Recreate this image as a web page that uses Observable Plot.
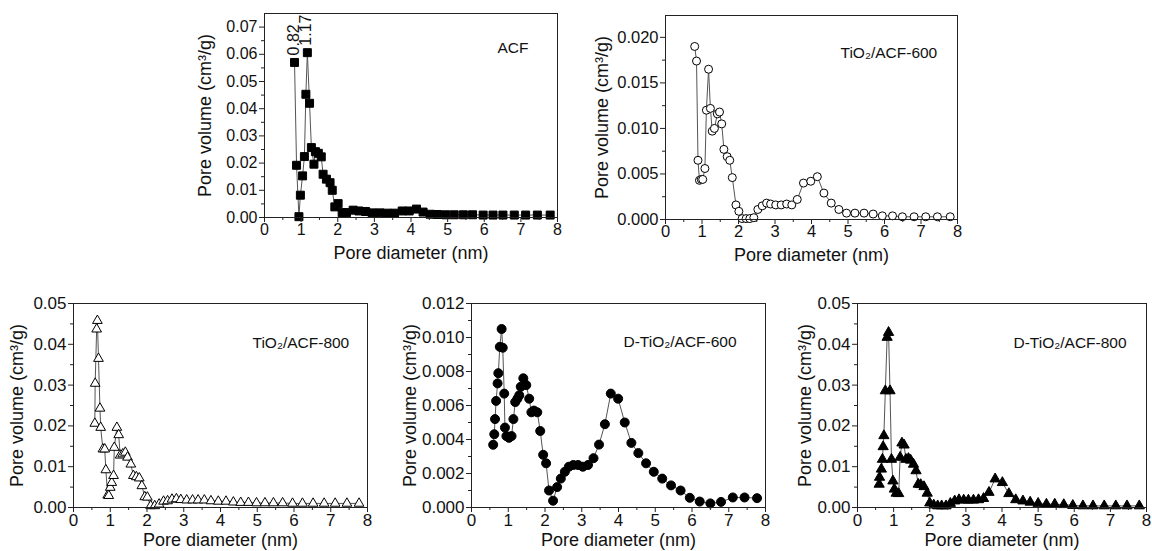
<!DOCTYPE html>
<html><head><meta charset="utf-8">
<script src="https://cdn.jsdelivr.net/npm/d3@7"></script>
<script src="https://cdn.jsdelivr.net/npm/@observablehq/plot@0.6"></script>
<style>
body{margin:0;background:#fff;overflow:hidden}
#wrap{position:relative;width:1152px;height:551px;overflow:hidden;background:#fff}
#wrap > svg{position:absolute}
</style></head><body><div id="wrap"></div>
<script>
// ---------- data ----------
const xMajor = [0,1,2,3,4,5,6,7,8];
const xMinor = [0.5,1.5,2.5,3.5,4.5,5.5,6.5,7.5];

const acfX = [0.82,0.875,0.94,0.98,1.04,1.09,1.13,1.17,1.23,1.28,1.35,1.39,1.47,1.55,1.60,1.69,1.79,1.85,1.92,2.01,2.12,2.24,2.42,2.58,2.76,2.94,3.15,3.35,3.55,3.76,3.95,4.15,4.33,4.52,4.72,4.95,5.18,5.43,5.68,5.97,6.24,6.51,6.82,7.13,7.45,7.80];
const acfY = [0.0570,0.0192,0.0003,0.0082,0.0153,0.0224,0.0453,0.0606,0.0420,0.0257,0.0196,0.0242,0.0236,0.0223,0.0159,0.0141,0.0128,0.0100,0.0039,0.0051,0.0018,0.0018,0.0027,0.0024,0.0022,0.0017,0.0017,0.0016,0.0016,0.0024,0.0024,0.0031,0.0020,0.0012,0.0011,0.0010,0.0010,0.0010,0.0010,0.0009,0.0009,0.0009,0.0009,0.0009,0.0009,0.0009];

const t600X = [0.80,0.85,0.89,0.93,0.98,1.02,1.08,1.12,1.18,1.23,1.28,1.34,1.42,1.48,1.54,1.60,1.69,1.76,1.83,1.93,2.01,2.10,2.21,2.31,2.42,2.53,2.65,2.77,2.88,3.02,3.17,3.32,3.46,3.61,3.78,3.98,4.16,4.34,4.54,4.75,4.96,5.19,5.44,5.69,5.94,6.22,6.49,6.81,7.13,7.45,7.80];
const t600Y = [0.0190,0.0174,0.0065,0.0043,0.0044,0.0044,0.0056,0.0120,0.0165,0.0122,0.0097,0.0100,0.0116,0.0118,0.0105,0.0077,0.0069,0.0065,0.0046,0.0016,0.0009,0.0001,0.0001,0.0001,0.0002,0.0011,0.0015,0.0018,0.0017,0.0016,0.0016,0.0017,0.0016,0.0022,0.0040,0.0042,0.0047,0.0029,0.0018,0.0011,0.0007,0.0007,0.0007,0.0006,0.0004,0.0004,0.0003,0.0003,0.0003,0.0003,0.0003];

const t800X = [0.58,0.59,0.63,0.65,0.68,0.72,0.74,0.80,0.85,0.88,0.93,0.96,1.00,1.04,1.09,1.11,1.18,1.23,1.27,1.34,1.41,1.47,1.56,1.63,1.71,1.79,1.86,1.94,2.01,2.10,2.21,2.33,2.45,2.56,2.68,2.80,2.92,3.08,3.24,3.39,3.56,3.74,3.94,4.15,4.35,4.55,4.76,4.98,5.21,5.44,5.69,5.96,6.23,6.52,6.82,7.12,7.44,7.77];
const t800Y = [0.0206,0.0304,0.0437,0.0458,0.0365,0.0243,0.0196,0.0143,0.0143,0.0092,0.0030,0.0029,0.0049,0.0061,0.0078,0.0147,0.0196,0.0178,0.0128,0.0131,0.0135,0.0123,0.0106,0.0078,0.0075,0.0072,0.0053,0.0026,0.0025,0.0004,0.0004,0.0008,0.0015,0.0016,0.0020,0.0021,0.0019,0.0018,0.0018,0.0018,0.0018,0.0016,0.0015,0.0015,0.0013,0.0012,0.0012,0.0011,0.0011,0.0011,0.0011,0.0010,0.0010,0.0010,0.0010,0.0010,0.0010,0.0010];

const d600X = [0.59,0.62,0.64,0.67,0.71,0.73,0.77,0.82,0.85,0.89,0.91,0.95,1.02,1.09,1.14,1.19,1.25,1.30,1.34,1.41,1.49,1.57,1.63,1.70,1.79,1.87,1.95,2.03,2.11,2.22,2.33,2.43,2.54,2.65,2.77,2.90,3.03,3.17,3.32,3.47,3.63,3.79,3.99,4.17,4.35,4.54,4.75,4.96,5.19,5.43,5.69,5.94,6.21,6.50,6.79,7.11,7.43,7.77];
const d600Y = [0.00369,0.00431,0.0052,0.00627,0.0073,0.0079,0.00945,0.0105,0.0094,0.0067,0.0047,0.0042,0.0041,0.0042,0.0052,0.0062,0.0064,0.0066,0.0071,0.0076,0.0072,0.0064,0.0056,0.0057,0.0056,0.0045,0.0031,0.0026,0.0010,0.0004,0.0012,0.0017,0.0021,0.0024,0.0025,0.0025,0.0024,0.0025,0.0029,0.0037,0.0049,0.0067,0.0064,0.0050,0.0038,0.0032,0.0026,0.0021,0.0017,0.0013,0.0010,0.00057,0.00035,0.00024,0.00033,0.00059,0.00059,0.00055];

const d800X = [0.60,0.61,0.66,0.69,0.71,0.73,0.77,0.82,0.86,0.90,0.94,0.98,1.02,1.07,1.14,1.18,1.23,1.29,1.34,1.41,1.47,1.55,1.62,1.68,1.75,1.84,1.93,2.00,2.11,2.22,2.33,2.45,2.57,2.69,2.81,2.94,3.07,3.21,3.35,3.49,3.64,3.81,4.01,4.19,4.38,4.58,4.78,5.00,5.23,5.46,5.71,5.96,6.24,6.52,6.83,7.15,7.46,7.80];
const d800Y = [0.0057,0.0074,0.0094,0.0118,0.0149,0.0176,0.0286,0.0417,0.0429,0.0286,0.0118,0.0065,0.0045,0.0035,0.0034,0.0123,0.0158,0.0153,0.0118,0.0120,0.0116,0.0106,0.0090,0.0057,0.0056,0.0051,0.0035,0.0011,0.0006,0.0004,0.0004,0.0004,0.0010,0.0016,0.0019,0.0018,0.0018,0.0018,0.0019,0.0022,0.0037,0.0070,0.0061,0.0034,0.0019,0.0016,0.0013,0.0010,0.0008,0.0008,0.0007,0.0005,0.0004,0.0004,0.0004,0.0004,0.0004,0.0004];

const peakNotes = [{x:0.82, y:0.0570, label:"0.82"}, {x:1.17, y:0.0606, label:"1.17"}];

const yTicksA = [0,0.01,0.02,0.03,0.04,0.05,0.06,0.07];
const yMinorA = [0.005,0.015,0.025,0.035,0.045,0.055,0.065];
const yTicksB = [0,0.005,0.010,0.015,0.020];
const yMinorB = [0.0025,0.0075,0.0125,0.0175];
const yTicksC = [0,0.01,0.02,0.03,0.04,0.05];
const yMinorC = [0.005,0.015,0.025,0.035,0.045];
const yTicksD = [0,0.002,0.004,0.006,0.008,0.010,0.012];
const yMinorD = [0.001,0.003,0.005,0.007,0.009,0.011];

// ---------- drawing ----------
const FONT = "'Liberation Sans', Arial, Helvetica, sans-serif";
const wrap = document.getElementById("wrap");

function panel(o) {
  const data = o.xs.map((x, i) => ({x, y: o.ys[i]}));
  const ML = 70, MR = o.mr ?? 8, MT = 10, MB = 46;
  const fw = o.right - o.left, fh = o.bottom - o.top;
  const marks = [
    Plot.line(data, {x: "x", y: "y", stroke: "#555", strokeWidth: 1}),
    Plot.dot(data, {x: "x", y: "y", symbol: o.symbol, r: o.r, fill: o.fill, stroke: "#000", strokeWidth: 1}),
    Plot.frame({stroke: "#222", strokeWidth: 1}),
    Plot.axisX(xMajor, {tickSize: 5, tickPadding: 1, fontSize: o.tickFont, label: null, stroke: "#222"}),
    Plot.axisX(xMinor, {tickSize: 3, text: null, label: null, stroke: "#222"}),
    Plot.axisY(o.yTicks, {tickSize: 5, tickPadding: 2, fontSize: o.tickFont, tickFormat: d3.format(o.fmt), label: null, stroke: "#222"}),
    Plot.axisY(o.yMinor, {tickSize: 3, text: null, label: null, stroke: "#222"}),
    Plot.text(["Pore diameter (nm)"], {frameAnchor: "bottom", dy: o.xlabDy, fontSize: 18, textAnchor: "middle", lineAnchor: "middle"}),
    Plot.text(["Pore volume (cm³/g)"], {frameAnchor: "left", dx: -o.ylabDx, rotate: -90, fontSize: 18, textAnchor: "middle", lineAnchor: "middle"}),
    Plot.text([o.label], {frameAnchor: "top-left", dx: o.labDx, dy: o.labDy, textAnchor: "start", lineAnchor: "middle", fontSize: 15.5})
  ];
  if (o.notes) {
    marks.push(Plot.text(o.notes, {x: "x", y: "y", text: "label", rotate: -90, textAnchor: "start", lineAnchor: "middle", dy: -7, dx: -1, fontSize: 16}));
  }
  const svg = Plot.plot({
    width: fw + ML + MR, height: fh + MT + MB,
    marginLeft: ML, marginRight: MR, marginTop: MT, marginBottom: MB,
    x: {domain: [0, 8]},
    y: {domain: o.yDomain},
    style: {fontFamily: FONT, color: "#111", background: "transparent", overflow: "visible"},
    marks
  });
  svg.style.left = (o.left - ML) + "px";
  svg.style.top = (o.top - MT) + "px";
  wrap.appendChild(svg);
}

panel({xs: acfX, ys: acfY, yDomain: [0, 0.075], yTicks: yTicksA, yMinor: yMinorA, fmt: ".2f",
  symbol: "square", r: 4.5, fill: "#000", label: "ACF", tickFont: 16,
  left: 264, right: 557, top: 13, bottom: 217, xlabDy: 36, ylabDx: 59, labDx: 233, labDy: 35, notes: peakNotes});
panel({xs: t600X, ys: t600Y, yDomain: [0, 0.0224], yTicks: yTicksB, yMinor: yMinorB, fmt: ".3f",
  symbol: "circle", r: 4, fill: "#fff", label: "TiO₂/ACF-600", tickFont: 16.5,
  left: 665, right: 957, top: 15, bottom: 219, xlabDy: 36, ylabDx: 63, labDx: 175, labDy: 38});
panel({xs: t800X, ys: t800Y, yDomain: [0, 0.05], yTicks: yTicksC, yMinor: yMinorC, fmt: ".2f",
  symbol: "triangle", r: 3.6, fill: "#fff", label: "TiO₂/ACF-800", tickFont: 17,
  left: 73, right: 367, top: 303, bottom: 507, xlabDy: 33, ylabDx: 56, labDx: 179, labDy: 40});
panel({xs: d600X, ys: d600Y, yDomain: [0, 0.012], yTicks: yTicksD, yMinor: yMinorD, fmt: ".3f",
  symbol: "circle", r: 4.5, fill: "#000", label: "D-TiO₂/ACF-600", tickFont: 17,
  left: 471, right: 765, top: 303, bottom: 507, xlabDy: 33, ylabDx: 61, labDx: 152, labDy: 39});
panel({xs: d800X, ys: d800Y, yDomain: [0, 0.05], yTicks: yTicksC, yMinor: yMinorC, fmt: ".2f",
  symbol: "triangle", r: 3.8, fill: "#000", label: "D-TiO₂/ACF-800", tickFont: 17,
  left: 857, right: 1146, top: 303, bottom: 507, xlabDy: 33, ylabDx: 52, labDx: 156, labDy: 40, mr: 6});
</script></body></html>
